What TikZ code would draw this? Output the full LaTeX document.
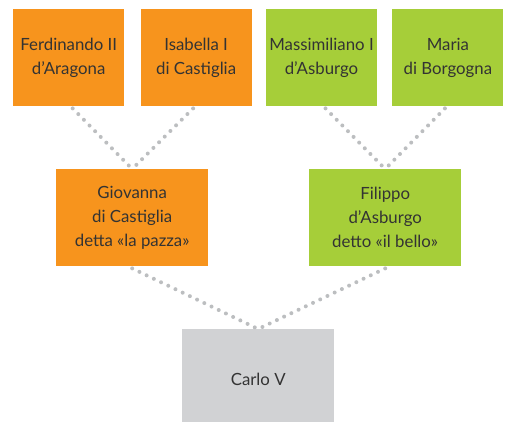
\documentclass[tikz,border=0pt]{standalone}
\usepackage{fontspec}
\setmainfont{Lato}
\usetikzlibrary{positioning}
\definecolor{arancio}{HTML}{F7941D}
\definecolor{verde}{HTML}{A6CE39}
\definecolor{grigio}{HTML}{D1D2D4}
\definecolor{puntini}{HTML}{BCBEC0}
\definecolor{testo}{HTML}{333333}
\tikzset {
  family node/.style = {
    draw = none,
    align = center,
    text = testo,
    inner sep = 0pt,
    font = \fontsize{16.8}{24}\selectfont
  },
  % grandparents
  avo/.style = {
    family node,
    minimum width = 111pt,
    minimum height = 97pt
  },
  % parents and son
  figlio/.style = {
    family node,
    minimum width = 152pt,
    minimum height = 97pt
  },
  spagna/.style = {fill = arancio},
  austria/.style = {fill = verde},
  erede/.style = {fill = grigio},
  % dotted descent line
  discendenza/.style = {
    draw = puntini,
    line width = 4pt,
    line cap = round,
    dash pattern = on 0pt off 8pt
  },
  node distance = 15pt
}
\begin{document}
\begin{tikzpicture}[x=1pt,y=1pt]
    \useasboundingbox (0,0) rectangle (505,-422);
    \node[avo,spagna,anchor=north west] (ferdinando) at (13,-9) {Ferdinando II\\d’Aragona};
    \node[avo,spagna] (isabella) [right=16pt of ferdinando] {Isabella I\\di Castiglia};
    \node[avo,austria] (massimiliano) [right=14pt of isabella] {Massimiliano I\\d’Asburgo};
    \node[avo,austria] (maria) [right=of massimiliano] {Maria\\di Borgogna};

    \node[figlio,spagna,anchor=north west] (giovanna) at (56,-169) {Giovanna\\di Castiglia\\detta «la pazza»};
    \node[figlio,austria,anchor=north west] (filippo) at (309,-169) {Filippo\\d’Asburgo\\detto «il bello»};
    \node[figlio,erede,anchor=north west,minimum height=100pt] (carlo) at (182,-329) {Carlo V};

    \draw[discendenza] ([xshift=4pt,yshift=-2pt]ferdinando.south) -- (giovanna.north);
    \draw[discendenza] ([xshift=-3pt,yshift=-2pt]isabella.south) -- (giovanna.north);
    \draw[discendenza] ([xshift=4pt,yshift=-2pt]massimiliano.south) -- (filippo.north);
    \draw[discendenza] ([xshift=-3pt,yshift=-2pt]maria.south) -- (filippo.north);
    \draw[discendenza] ([yshift=-2pt]giovanna.south) -- (carlo.north);
    \draw[discendenza] ([yshift=-2pt]filippo.south) -- (carlo.north);
  \end{tikzpicture}
\end{document}
